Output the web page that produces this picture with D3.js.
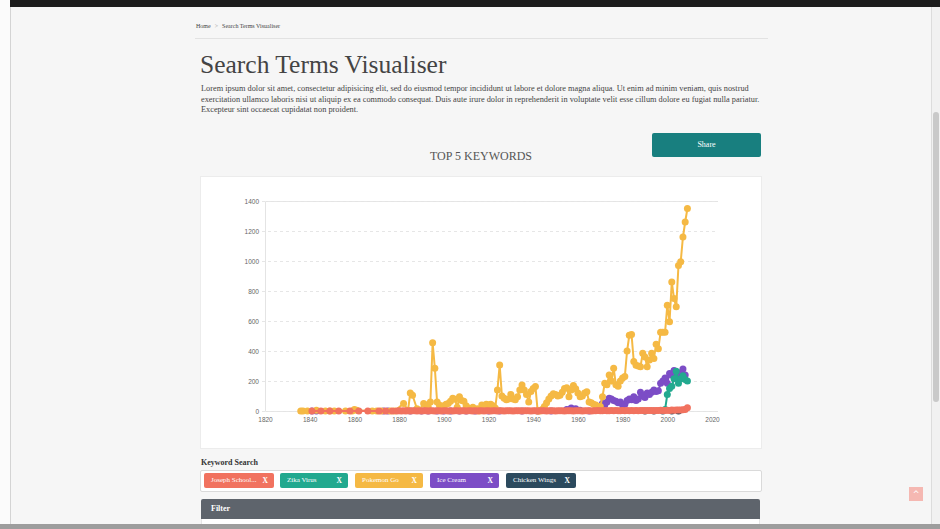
<!DOCTYPE html>
<html>
<head>
<meta charset="utf-8">
<script src="https://cdn.jsdelivr.net/npm/d3@7"></script>
<style>
  body { margin: 0; width: 940px; height: 529px; overflow: hidden; position: relative;
         background: #f6f6f6; font-family: "Liberation Serif", "Times New Roman", serif; color: #333; }
  .abs { position: absolute; }
  #topbar { left: 10px; top: 0; width: 930px; height: 7px; background: #1d1d1d; }
  #leftedge { left: 0; top: 0; width: 10px; height: 524px; background: #fbfbfb; border-right: 1px solid #d4d4d4; }
  #scroll { left: 931px; top: 7px; width: 9px; height: 517px; background: #f1f1f1; border-left: 1px solid #dcdcdc; }
  #thumb { left: 933px; top: 112px; width: 6px; height: 290px; background: #c9c9c9; border-radius: 3px; }
  #bottombar { left: 0; top: 524px; width: 940px; height: 5px; background: #9d9d9d; }
  #crumb { left: 196px; top: 23px; font-size: 6px; color: #444; white-space: nowrap; }
  #crumb span { color: #aaa; margin: 0 4px; }
  #rule { left: 195px; top: 38px; width: 573px; height: 1px; background: #e2e2e2; }
  #title { left: 200px; top: 52px; font-size: 25.5px; line-height: 1; color: #444; white-space: nowrap; }
  #lorem { left: 201px; top: 84px; font-size: 8.3px; line-height: 10.5px; color: #444; white-space: nowrap; }
  #top5 { left: 381px; width: 200px; text-align: center; top: 150px; font-size: 12px; line-height: 1; color: #555; }
  #share { left: 652px; top: 133px; width: 109px; height: 24px; background: #187f7f; border-radius: 2px;
           color: #fff; font-size: 8px; line-height: 24px; text-align: center; }
  #panel { left: 200px; top: 176px; width: 560px; height: 271px; background: #fff; border: 1px solid #ececec; }
  #kwlabel { left: 201px; top: 459px; font-size: 8px; font-weight: bold; line-height: 1; color: #333; }
  #chipbox { left: 200px; top: 470px; width: 560px; height: 20px; background: #fff; border: 1px solid #dadada; border-radius: 2px; }
  .chip { top: 473px; height: 15px; border-radius: 2px; color: #fff; font-size: 7px; line-height: 15px; white-space: nowrap; }
  .chip .lbl { position: absolute; left: 7px; }
  .chip .x { position: absolute; right: 6px; font-weight: bold; font-size: 7.5px; }
  #filter { left: 201px; top: 499px; width: 559px; height: 20px; background: #5e646c; border-radius: 2px 2px 0 0;
            color: #fff; font-size: 8px; font-weight: bold; line-height: 20px; }
  #filter span { margin-left: 10px; }
  #filterbody { left: 201px; top: 519px; width: 557px; height: 5px; background: #fff; border: 1px solid #e6e6e6; border-top: none; }
  #totop { left: 909px; top: 487px; width: 14px; height: 14px; background: #f5b8b2; color: #fff; font-size: 8px;
           line-height: 16px; text-align: center; font-family: "DejaVu Sans", sans-serif; }
  svg { position: absolute; left: 0; top: 0; }
</style>
</head>
<body>
<div class="abs" id="leftedge"></div>
<div class="abs" id="topbar"></div>
<div class="abs" id="crumb">Home<span>&gt;</span>Search Terms Visualiser</div>
<div class="abs" id="rule"></div>
<div class="abs" id="title">Search Terms Visualiser</div>
<div class="abs" id="lorem">Lorem ipsum dolor sit amet, consectetur adipisicing elit, sed do eiusmod tempor incididunt ut labore et dolore magna aliqua. Ut enim ad minim veniam, quis nostrud<br>exercitation ullamco laboris nisi ut aliquip ex ea commodo consequat. Duis aute irure dolor in reprehenderit in voluptate velit esse cillum dolore eu fugiat nulla pariatur.<br>Excepteur sint occaecat cupidatat non proident.</div>
<div class="abs" id="top5">TOP 5 KEYWORDS</div>
<div class="abs" id="share">Share</div>
<div class="abs" id="panel"></div>
<div class="abs" id="kwlabel">Keyword Search</div>
<div class="abs" id="chipbox"></div>
<div class="abs" id="filter"><span>Filter</span></div>
<div class="abs" id="filterbody"></div>
<div class="abs" id="totop">^</div>
<div class="abs" id="scroll"></div>
<div class="abs" id="thumb"></div>
<div class="abs" id="bottombar"></div>
<svg id="chart" width="940" height="529"></svg>

<script>
// keywords, in the order of the chips
var keywords = ["Joseph School...", "Zika Virus", "Pokemon Go", "Ice Cream", "Chicken Wings"];
var colors = ["#f1725f", "#22a98f", "#f5b944", "#7c4dc6", "#2c4a5e"];

// [year, searches]
var josephSchool = [
  [1841,0],[1845,0],[1849,0],[1853,0],[1858,0],[1862,0],[1866,0],[1871,0],[1874,0],[1877,0],
  [1879,0],[1880,1],[1881,0],[1882,2],[1883,0],[1884,1],[1885,0],[1886,2],[1887,1],[1888,0],
  [1889,1],[1890,0],[1891,2],[1892,1],[1893,0],[1894,2],[1895,1],[1896,0],[1897,1],[1898,2],
  [1899,0],[1900,1],[1901,2],[1902,0],[1903,1],[1904,0],[1905,2],[1906,1],[1907,0],[1908,2],
  [1909,1],[1910,0],[1911,1],[1912,2],[1913,0],[1914,1],[1915,0],[1916,2],[1917,1],[1918,0],
  [1919,1],[1920,2],[1921,0],[1922,1],[1923,2],[1924,0],[1925,1],[1926,2],[1927,0],[1928,1],
  [1929,2],[1930,1],[1931,0],[1932,2],[1933,1],[1934,2],[1935,0],[1936,1],[1937,2],[1938,1],
  [1939,0],[1940,2],[1941,1],[1942,0],[1943,2],[1944,1],[1945,2],[1946,0],[1947,1],[1948,2],
  [1949,1],[1950,0],[1951,2],[1952,1],[1953,2],[1954,0],[1955,1],[1956,2],[1957,1],[1958,0],
  [1959,2],[1960,1],[1961,2],[1962,0],[1963,1],[1964,2],[1965,1],[1966,0],[1967,2],[1968,1],
  [1969,3],[1970,2],[1971,1],[1972,3],[1973,2],[1974,1],[1975,3],[1976,2],[1977,3],[1978,1],
  [1979,2],[1980,3],[1981,2],[1982,3],[1983,1],[1984,3],[1985,2],[1986,3],[1987,2],[1988,4],
  [1989,3],[1990,2],[1991,4],[1992,3],[1993,4],[1994,2],[1995,4],[1996,3],[1997,5],[1998,4],
  [1999,3],[2000,5],[2001,4],[2002,6],[2003,5],[2004,6],[2005,7],[2006,6],[2007,8],[2008,10],[2009,22]
];
var zikaVirus = [
  [1999,10],[2000,110],[2001,150],[2002,165],[2003,215],[2004,265],[2005,185],[2006,215],
  [2007,235],[2008,210],[2009,200]
];
var pokemonGo = [
  [1836,0],[1837,0],[1839,0],[1843,5],[1847,0],[1849,0],[1851,0],[1856,0],[1859,0],[1860,10],
  [1861,5],[1868,0],[1870,0],[1872,0],[1876,0],[1878,0],[1882,50],[1884,5],[1885,120],[1886,105],
  [1888,15],[1889,5],[1891,50],[1892,40],[1893,30],[1894,60],[1895,455],[1896,285],[1897,60],
  [1898,40],[1899,25],[1900,35],[1901,45],[1902,50],[1903,65],[1904,85],[1905,78],[1906,25],
  [1907,95],[1908,70],[1909,65],[1910,35],[1911,20],[1912,10],[1913,25],[1914,5],[1915,15],
  [1916,0],[1917,40],[1918,20],[1919,45],[1920,40],[1921,45],[1922,35],[1923,20],[1924,140],
  [1925,307],[1926,100],[1927,85],[1928,75],[1929,80],[1930,110],[1931,80],[1932,75],[1933,95],
  [1934,140],[1935,173],[1936,140],[1937,110],[1938,60],[1939,130],[1940,150],[1941,163],
  [1942,0],[1943,0],[1944,10],[1945,30],[1946,55],[1947,80],[1948,100],[1949,115],[1950,110],
  [1951,100],[1952,105],[1953,125],[1954,150],[1955,155],[1956,95],[1957,140],[1958,170],
  [1959,148],[1960,120],[1961,95],[1962,100],[1963,120],[1964,128],[1965,60],[1966,55],
  [1967,45],[1968,40],[1969,30],[1970,30],[1971,95],[1972,185],[1973,175],[1974,240],[1975,200],
  [1976,285],[1977,175],[1978,165],[1979,200],[1980,220],[1981,230],[1982,400],[1983,505],
  [1984,510],[1985,330],[1986,305],[1987,300],[1988,295],[1989,385],[1990,360],[1991,295],
  [1992,340],[1993,385],[1994,350],[1995,445],[1996,415],[1997,525],[1998,525],[1999,525],
  [2000,705],[2001,595],[2002,860],[2003,750],[2004,695],[2005,970],[2006,995],[2007,1160],
  [2008,1260],[2009,1350]
];
var iceCream = [
  [1841,0],[1843,0],[1873,0],[1875,0],[1885,0],[1890,0],[1893,0],[1897,0],[1900,0],[1903,0],
  [1907,0],[1910,0],[1914,0],[1920,0],[1925,0],[1935,0],[1942,0],[1948,0],[1955,10],[1957,20],
  [1959,15],[1961,5],[1965,0],[1968,5],[1970,30],[1971,50],[1972,40],[1973,60],[1974,85],
  [1975,80],[1976,70],[1977,65],[1978,55],[1979,60],[1980,40],[1981,45],[1982,70],[1983,80],
  [1984,75],[1985,95],[1986,70],[1987,80],[1988,125],[1989,100],[1990,90],[1991,120],[1992,110],
  [1993,125],[1994,140],[1995,130],[1996,135],[1997,185],[1998,200],[1999,220],[2000,185],
  [2001,250],[2002,240],[2003,270],[2004,235],[2005,240],[2006,255],[2007,280],[2008,240]
];
var chickenWings = [
  [1990,0],[1994,0],[1998,0],[2002,0],[2005,0]
];
var seriesData = [josephSchool, zikaVirus, pokemonGo, iceCream, chickenWings];

var xTicks = [1820, 1840, 1860, 1880, 1900, 1920, 1940, 1960, 1980, 2000, 2020];
var yTicks = [0, 200, 400, 600, 800, 1000, 1200, 1400];

// chips under the chart
var chipX = [204, 280, 355, 430, 506];
var chipW = [70, 68, 68, 69, 70];

d3.select("body").selectAll("div.chip")
  .data(keywords)
  .enter()
  .append("div")
  .attr("class", "abs chip")
  .style("left", function (d, i) { return chipX[i] + "px"; })
  .style("width", function (d, i) { return chipW[i] + "px"; })
  .style("background", function (d, i) { return colors[i]; })
  .html(function (d) { return '<span class="lbl">' + d + '</span><span class="x">X</span>'; });

var svg = d3.select("svg#chart"),
  plotLeft = 265, plotRight = 712, plotTop = 201, plotBottom = 411, gridEnd = 718;

var x = d3.scaleLinear().domain([1820, 2020]).range([plotLeft, plotRight]);
var y = d3.scaleLinear().domain([0, 1400]).range([plotBottom, plotTop]);

// y axis with dashed grid
var gy = svg.append("g")
  .attr("transform", "translate(" + plotLeft + ",0)")
  .call(d3.axisLeft(y).tickValues(yTicks).tickFormat(d3.format("d"))
    .tickSize(-(gridEnd - plotLeft)).tickPadding(6));
gy.select(".domain").attr("stroke", "#e4e4e4");
gy.selectAll(".tick line")
  .attr("x1", -3)
  .attr("stroke", "#e6e6e6")
  .attr("stroke-dasharray", "3,3");
gy.selectAll(".tick text")
  .attr("fill", "#666")
  .attr("font-size", 6.5)
  .attr("font-family", "Liberation Sans, Arial, sans-serif");

// x axis labels only
var gx = svg.append("g")
  .attr("transform", "translate(0," + plotBottom + ")")
  .call(d3.axisBottom(x).tickValues(xTicks).tickFormat(d3.format("d")).tickSize(0).tickPadding(6));
gx.select(".domain").remove();
gx.selectAll(".tick text")
  .attr("fill", "#666")
  .attr("font-size", 6.5)
  .attr("font-family", "Liberation Sans, Arial, sans-serif");

var line = d3.line()
  .x(function (d) { return x(d[0]); })
  .y(function (d) { return y(d[1]); });

// draw last keyword first so the first one ends on top
var order = d3.range(seriesData.length).reverse();
order.forEach(function (i) {
  var g = svg.append("g").attr("class", "series");
  g.append("path")
    .datum(seriesData[i])
    .attr("d", line)
    .attr("fill", "none")
    .attr("stroke", colors[i])
    .attr("stroke-width", 2);
  g.selectAll("circle")
    .data(seriesData[i])
    .enter()
    .append("circle")
    .attr("cx", function (d) { return x(d[0]); })
    .attr("cy", function (d) { return y(d[1]); })
    .attr("r", 3.5)
    .attr("fill", colors[i]);
});
</script>
</body>
</html>
